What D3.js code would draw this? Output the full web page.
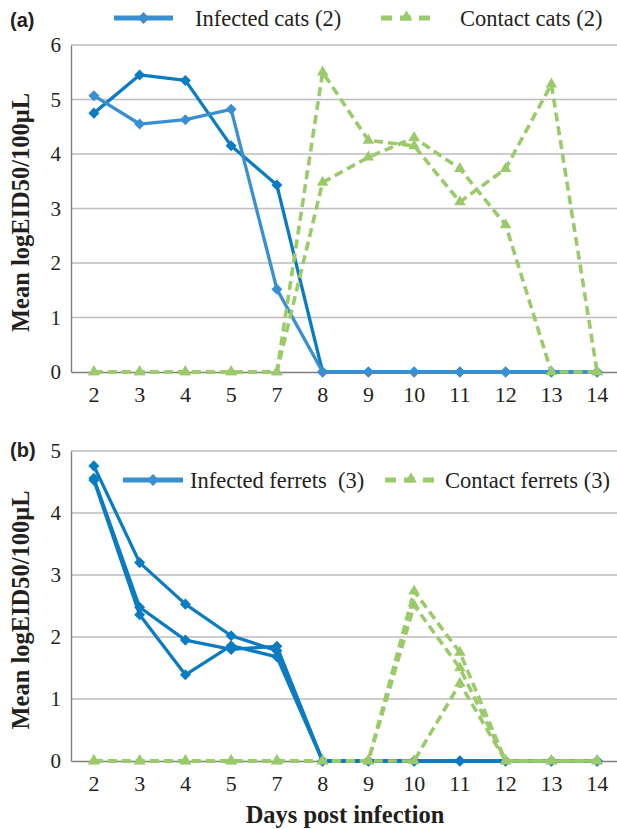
<!DOCTYPE html>
<html>
<head>
<meta charset="utf-8">
<script src="https://cdn.jsdelivr.net/npm/d3@7"></script>
<style>
  body { margin: 0; background: #fff; }
  svg { display: block; }
  text { font-family: "Liberation Serif", "Times New Roman", serif; fill: #231f20; }
</style>
</head>
<body>
<svg id="chart" width="617" height="829"></svg>
<script>
const width = 617;
const height = 829;

// x categories (day 6 is not sampled)
const days = ["2", "3", "4", "5", "7", "8", "9", "10", "11", "12", "13", "14"];

// panel (a) cats
const infectedCat1 = [4.75, 5.45, 5.35, 4.15, 3.43, 0, 0, 0, 0, 0, 0, 0];
const infectedCat2 = [5.07, 4.55, 4.63, 4.82, 1.52, 0, 0, 0, 0, 0, 0, 0];
const contactCat1 = [0, 0, 0, 0, 0, 5.5, 4.25, 4.15, 3.12, 3.73, 5.28, 0];
const contactCat2 = [0, 0, 0, 0, 0, 3.48, 3.94, 4.3, 3.73, 2.7, 0, 0];
const catTicks = [0, 1, 2, 3, 4, 5, 6];

// panel (b) ferrets
const infectedFerret1 = [4.76, 3.2, 2.53, 2.02, 1.78, 0, 0, 0, 0, 0, 0, 0];
const infectedFerret2 = [4.56, 2.48, 1.95, 1.8, 1.85, 0, 0, 0, 0, 0, 0, 0];
const infectedFerret3 = [4.53, 2.36, 1.39, 1.86, 1.68, 0, 0, 0, 0, 0, 0, 0];
const contactFerret1 = [0, 0, 0, 0, 0, 0, 0, 2.74, 1.75, 0, 0, 0];
const contactFerret2 = [0, 0, 0, 0, 0, 0, 0, 2.51, 1.5, 0, 0, 0];
const contactFerret3 = [0, 0, 0, 0, 0, 0, 0, 0, 1.25, 0, 0, 0];
const ferretTicks = [0, 1, 2, 3, 4, 5];

const blue = "#0b7cc2";
const blueLight = "#3a8fd1";
const green = "#9bca6a";
const serif = "'Liberation Serif', 'Times New Roman', serif";

const svg = d3.select("#chart");

const x = d3.scaleBand().domain(days).range([71, 620]);

// diamond and triangle markers
const diamond = d3.symbol().type(d3.symbolDiamond2).size(78);
const triangle = d3.symbol().type(d3.symbolTriangle2).size(95);
const legendDiamond = d3.symbol().type(d3.symbolDiamond2).size(90);
const legendTriangle = d3.symbol().type(d3.symbolTriangle2).size(100);

function drawPanel(opts) {
  const g = svg.append("g");
  const y = d3.scaleLinear().domain([0, opts.max]).range([opts.bottom, opts.top]);

  // gridlines
  g.selectAll(".grid")
    .data(opts.ticks.filter(t => t > 0))
    .enter()
    .append("line")
    .attr("x1", 71).attr("x2", 620)
    .attr("y1", d => y(d)).attr("y2", d => y(d))
    .attr("stroke", "#bdbdbd")
    .attr("stroke-width", 1.3);

  // y axis
  const yAxis = g.append("g")
    .attr("transform", "translate(71,0)")
    .attr("font-family", serif)
    .call(d3.axisLeft(y).tickValues(opts.ticks).tickSize(0).tickPadding(10).tickFormat(d3.format("d")));
  yAxis.select(".domain").attr("stroke", "#7f7f7f").attr("stroke-width", 1.4);
  yAxis.selectAll("text").attr("font-size", 21).attr("fill", "#231f20");

  // x axis
  const xAxis = g.append("g")
    .attr("transform", `translate(0,${opts.bottom})`)
    .attr("font-family", serif)
    .call(d3.axisBottom(x).tickSize(0).tickPadding(14));
  xAxis.select(".domain").attr("stroke", "#7f7f7f").attr("stroke-width", 1.4);
  xAxis.selectAll("text").attr("font-size", 22).attr("fill", "#231f20");

  const line = d3.line()
    .x((d, i) => x(days[i]) + x.bandwidth() / 2)
    .y(d => y(d));

  // infected (blue, solid, diamonds)
  opts.infected.forEach((s, k) => {
    const col = opts.infectedColors[k];
    g.append("path")
      .datum(s)
      .attr("d", line)
      .attr("fill", "none")
      .attr("stroke", col)
      .attr("stroke-width", 3.3)
      .attr("stroke-linejoin", "round");
    g.selectAll(null)
      .data(s)
      .enter()
      .append("path")
      .attr("d", diamond)
      .attr("transform", (d, i) => `translate(${x(days[i]) + x.bandwidth() / 2},${y(d)})`)
      .attr("fill", col);
  });

  // contact (green, dashed, triangles)
  opts.contact.forEach(s => {
    g.append("path")
      .datum(s)
      .attr("d", line)
      .attr("fill", "none")
      .attr("stroke", green)
      .attr("stroke-width", 3.6)
      .attr("stroke-dasharray", "9,5");
    g.selectAll(null)
      .data(s)
      .enter()
      .append("path")
      .attr("d", triangle)
      .attr("transform", (d, i) => `translate(${x(days[i]) + x.bandwidth() / 2},${y(d)})`)
      .attr("fill", green);
  });

  // panel letter
  svg.append("text")
    .attr("x", 10).attr("y", opts.letterY)
    .style("font-family", "'Liberation Sans', Arial, sans-serif")
    .style("font-weight", "bold")
    .style("font-size", "20px")
    .text(opts.letter);

  // y title
  svg.append("text")
    .attr("transform", `translate(29,${(opts.top + opts.bottom) / 2 + 4}) rotate(-90)`)
    .attr("text-anchor", "middle")
    .style("font-weight", "bold")
    .style("font-size", "24.5px")
    .text("Mean logEID50/100μL");

  // legend
  const lg = svg.append("g");
  const L = opts.legend;
  lg.append("line")
    .attr("x1", L.b1).attr("x2", L.b2).attr("y1", L.y).attr("y2", L.y)
    .attr("stroke", blueLight).attr("stroke-width", 5);
  lg.append("path").attr("d", legendDiamond)
    .attr("transform", `translate(${(L.b1 + L.b2) / 2},${L.y})`).attr("fill", blueLight);
  lg.append("text").attr("x", L.bt).attr("y", L.y + 8)
    .style("font-size", "22.5px").style("white-space", "pre").text(L.bLabel);
  lg.append("line")
    .attr("x1", L.g1).attr("x2", L.g2).attr("y1", L.y).attr("y2", L.y)
    .attr("stroke", green).attr("stroke-width", 5).attr("stroke-dasharray", "11,8");
  lg.append("path").attr("d", legendTriangle)
    .attr("transform", `translate(${(L.g1 + L.g2) / 2},${L.y - 1})`).attr("fill", green);
  lg.append("text").attr("x", L.gt).attr("y", L.y + 8)
    .style("font-size", "22.5px").style("white-space", "pre").text(L.gLabel);
}

drawPanel({
  top: 45, bottom: 372, max: 6, ticks: catTicks,
  infected: [infectedCat1, infectedCat2],
  infectedColors: [blue, blueLight],
  contact: [contactCat1, contactCat2],
  letter: "(a)", letterY: 27,
  legend: { y: 18, b1: 114, b2: 173, bt: 195, bLabel: "Infected cats (2)",
            g1: 381, g2: 432, gt: 460, gLabel: "Contact cats (2)" }
});

drawPanel({
  top: 451, bottom: 761, max: 5, ticks: ferretTicks,
  infected: [infectedFerret1, infectedFerret2, infectedFerret3],
  infectedColors: [blue, blue, blue],
  contact: [contactFerret1, contactFerret2, contactFerret3],
  letter: "(b)", letterY: 457,
  legend: { y: 480, b1: 123, b2: 183, bt: 190, bLabel: "Infected ferrets  (3)",
            g1: 385, g2: 437, gt: 445, gLabel: "Contact ferrets (3)" }
});

// x title
svg.append("text")
  .attr("x", 345).attr("y", 823)
  .attr("text-anchor", "middle")
  .style("font-weight", "bold")
  .style("font-size", "24.5px")
  .text("Days post infection");
</script>
</body>
</html>
